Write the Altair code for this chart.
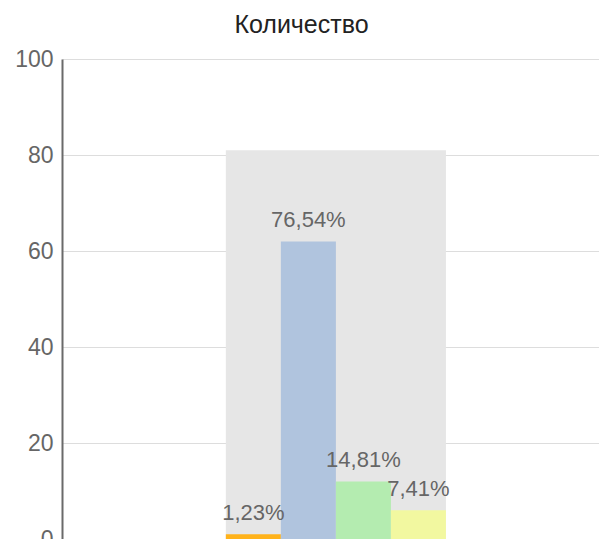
import altair as alt
import pandas as pd

group = "Количество"
categories = ["Вариант 1", "Вариант 2", "Вариант 3", "Вариант 4"]
counts = [1, 62, 12, 6]
labels = ["1,23%", "76,54%", "14,81%", "7,41%"]
colors = ["#ffb21a", "#b0c4de", "#b4ecb0", "#f2f8a0"]
total = [81]

df = pd.DataFrame({"group": group, "cat": categories, "count": counts, "label": labels})
df_total = pd.DataFrame({"group": [group], "total": total})

x_scale = alt.Scale(paddingInner=0, paddingOuter=0.72, align=0.517)
y_scale = alt.Scale(domain=[0, 100])
x_enc = alt.X("group:N", scale=x_scale, axis=None)
y_axis = alt.Axis(values=[0, 20, 40, 60, 80, 100], grid=True, gridColor="#dddddd", gridWidth=1,
                  domainColor="#6a6a6a", domainWidth=2, ticks=False, labelPadding=9,
                  labelFontSize=23, labelColor="#666666", labelFont="Liberation Sans", title=None)

bg = alt.Chart(df_total).mark_bar(color="#e6e6e6").encode(
    x=x_enc,
    y=alt.Y("total:Q", scale=y_scale, axis=y_axis),
)

color_enc = alt.Color("cat:N", scale=alt.Scale(domain=categories, range=colors), legend=None)
off = alt.XOffset("cat:N", scale=alt.Scale(domain=categories, paddingInner=0, paddingOuter=0))

bars = alt.Chart(df).mark_bar().encode(
    x=x_enc,
    xOffset=off,
    y=alt.Y("count:Q", scale=y_scale),
    color=color_enc,
)

text = alt.Chart(df).mark_text(baseline="alphabetic", dy=-14, fontSize=22, color="#666666",
                               font="Liberation Sans").encode(
    x=x_enc,
    xOffset=off,
    y=alt.Y("count:Q", scale=y_scale),
    text="label:N",
)

chart = alt.layer(bg, bars, text).properties(
    width=537,
    height=480,
    title=alt.TitleParams(group, fontSize=25, font="Liberation Sans", fontWeight="normal",
                          color="#222222", anchor="middle", dx=-29, offset=10),
    autosize=alt.AutoSizeParams(type="none"),
    padding={"left": 54, "top": 51, "right": 0, "bottom": 0},
).configure_view(stroke=None)

chart.save("out.html", embed_options={"renderer": "svg", "actions": False})
